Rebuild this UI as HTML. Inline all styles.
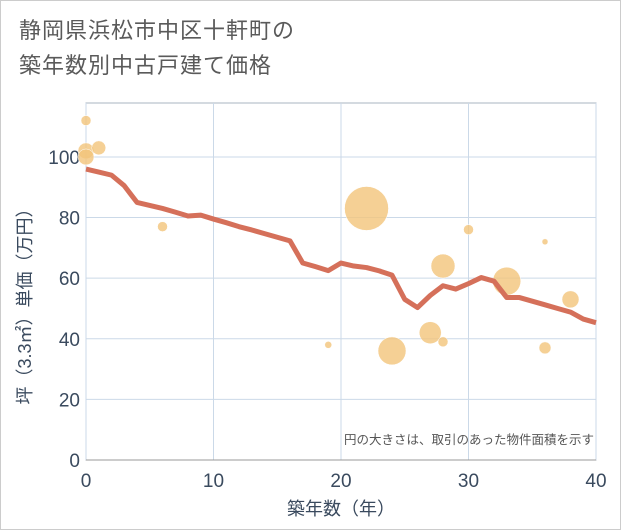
<!DOCTYPE html>
<html><head><meta charset="utf-8"><style>
body{margin:0;background:#fff;font-family:"Liberation Sans","Noto Sans CJK JP",sans-serif}
#wrap{position:relative;width:619px;height:528px;border:1px solid #ccc;overflow:hidden}
#title{position:absolute;left:18px;top:12px;font-size:22px;line-height:35px;color:#5a5a5a;letter-spacing:1px}
</style></head><body>
<div id="wrap">
<div id="title">静岡県浜松市中区十軒町の<br>築年数別中古戸建て価格</div>
<svg id="chart" width="621" height="530" style="position:absolute;left:-1px;top:-1px"></svg>
</div>
<script>
const lineYears=[0,1,2,3,4,5,6,7,8,9,10,11,12,13,14,15,16,17,18,19,20,21,22,23,24,25,26,27,28,29,30,31,32,33,34,35,36,37,38,39,40];
const lineValues=[96,95,94,90.5,85,84,83,81.8,80.5,80.8,79.5,78.3,77,75.9,74.7,73.5,72.3,65,63.8,62.5,65,64,63.5,62.4,61,53,50.3,54.3,57.5,56.4,58.2,60.2,59,53.6,53.6,52.4,51.2,50,48.8,46.5,45.3];
const bubbleYears=[0,0,0,1,6,19,22,24,27,28,28,30,33,36,36,38];
const bubbleValues=[112,102,100,103,77,38,83,36,42,39,64,76,59,72,37,53];
const bubbleSizes=[5,8,8,7,5,3.5,22,14,11,5,12,5,14,3,6,8.5];
const xTicks=[0,10,20,30,40];
const yTicks=[0,20,40,60,80,100];
const L=86,R=596,T=103,B=460,xMax=40,yMax=117.8;
const X=v=>L+(R-L)*v/xMax, Y=v=>B-(B-T)*v/yMax;
const svg=document.getElementById('chart');const NS='http://www.w3.org/2000/svg';
function mk(t,a){const e=document.createElementNS(NS,t);for(const k in a)e.setAttribute(k,a[k]);svg.appendChild(e);return e;}
let e;
e=mk('rect',{x:L,y:T,width:R-L,height:B-T,fill:'#fff',stroke:'#aab4c0','stroke-width':1});


xTicks.forEach(t=>{
 e=mk('line',{x1:X(t),x2:X(t),y1:T,y2:B,stroke:'#cbd9e8'});
 
 
 e=mk('text',{x:X(t),y:B+27,'text-anchor':'middle','font-size':19,fill:'#3a4a5e'});e.textContent=t;
 
 
});
yTicks.forEach(t=>{
 e=mk('line',{x1:L,x2:R,y1:Y(t),y2:Y(t),stroke:'#cbd9e8'});
 
 
 e=mk('text',{x:L-6,y:Y(t)+7,'text-anchor':'end','font-size':19,fill:'#3a4a5e'});e.textContent=t;
 
 
});
e=mk('line',{x1:L,x2:R,y1:B,y2:B,stroke:'#999'});


bubbleYears.forEach((yr,i)=>{
 e=mk('circle',{cx:X(yr),cy:Y(bubbleValues[i]),r:bubbleSizes[i],fill:'#f3c47a','fill-opacity':0.8,stroke:'#fff','stroke-width':0.5});
 
 
});
e=mk('polyline',{points:lineYears.map((yr,i)=>X(yr)+','+Y(lineValues[i])).join(' '),fill:'none',stroke:'#d5705a','stroke-width':5,'stroke-linejoin':'round'});


e=mk('text',{x:594,y:444,'text-anchor':'end','font-size':12.5,fill:'#555'});e.textContent='円の大きさは、取引のあった物件面積を示す';


e=mk('text',{x:341,y:515,'text-anchor':'middle','font-size':18,fill:'#3a4a5e'});e.textContent='築年数（年）';


e=mk('text',{x:0,y:0,'text-anchor':'middle','font-size':18,fill:'#3a4a5e',transform:'translate(31,302) rotate(-90)'});e.textContent='坪（3.3㎡）単価（万円）';


</script>
</body></html>
